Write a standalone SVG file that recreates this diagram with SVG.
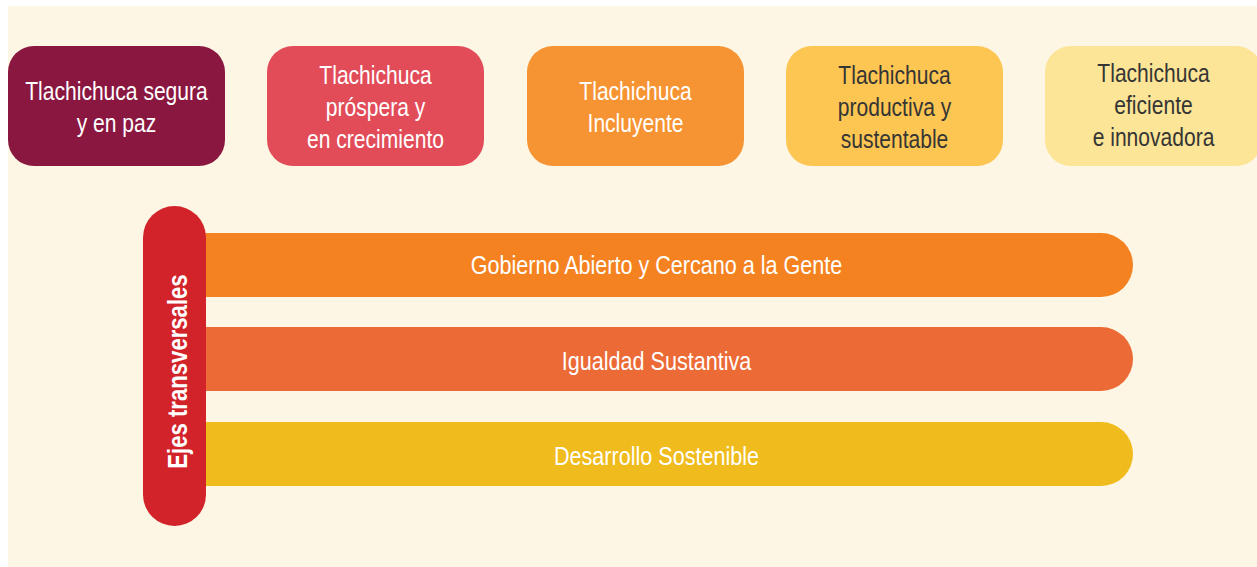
<svg xmlns="http://www.w3.org/2000/svg" width="1257" height="567" viewBox="0 0 1257 567">
<style>
.t{font-family:"Liberation Sans",Arial,sans-serif;font-size:26px;text-anchor:middle}
.w{fill:#ffffff}
.d{fill:#353535}
.b{font-weight:bold;font-size:27px}
</style>
<rect x="0" y="0" width="1257" height="567" fill="#ffffff"/>
<rect x="8" y="6" width="1249" height="561" fill="#FDF6E4"/>
<g id="node-segura">
<rect x="8" y="46" width="217" height="120" rx="26" fill="#8A173F"/>
<g transform="translate(116.5,0) scale(0.81,1)">
<text class="t w" x="0" y="100">Tlachichuca segura</text>
<text class="t w" x="0" y="132">y en paz</text>
</g>
</g>
<g id="node-prospera">
<rect x="267" y="46" width="217" height="120" rx="26" fill="#E24C59"/>
<g transform="translate(375.5,0) scale(0.81,1)">
<text class="t w" x="0" y="84">Tlachichuca</text>
<text class="t w" x="0" y="116">próspera y</text>
<text class="t w" x="0" y="148">en crecimiento</text>
</g>
</g>
<g id="node-incluyente">
<rect x="527" y="46" width="217" height="120" rx="26" fill="#F69433"/>
<g transform="translate(635.5,0) scale(0.81,1)">
<text class="t w" x="0" y="100">Tlachichuca</text>
<text class="t w" x="0" y="132">Incluyente</text>
</g>
</g>
<g id="node-productiva">
<rect x="786" y="46" width="217" height="120" rx="26" fill="#FDC652"/>
<g transform="translate(894.5,0) scale(0.81,1)">
<text class="t d" x="0" y="84">Tlachichuca</text>
<text class="t d" x="0" y="116">productiva y</text>
<text class="t d" x="0" y="148">sustentable</text>
</g>
</g>
<g id="node-eficiente">
<rect x="1045" y="46" width="217" height="120" rx="26" fill="#FCE596"/>
<g transform="translate(1153.5,0) scale(0.81,1)">
<text class="t d" x="0" y="82">Tlachichuca</text>
<text class="t d" x="0" y="114">eficiente</text>
<text class="t d" x="0" y="146">e innovadora</text>
</g>
</g>
<g id="connectors"></g>
<g id="bar-gobierno">
<rect x="175" y="233" width="958" height="64" rx="32" fill="#F58220"/>
<text class="t w" transform="translate(656.5,274) scale(0.83,1)">Gobierno Abierto y Cercano a la Gente</text>
</g>
<g id="bar-igualdad">
<rect x="175" y="327" width="958" height="64" rx="32" fill="#EC6A35"/>
<text class="t w" transform="translate(656.5,370) scale(0.83,1)">Igualdad Sustantiva</text>
</g>
<g id="bar-desarrollo">
<rect x="175" y="422" width="958" height="64" rx="32" fill="#F0BB1C"/>
<text class="t w" transform="translate(656.5,465) scale(0.83,1)">Desarrollo Sostenible</text>
</g>
<g id="node-ejes">
<rect x="143" y="206" width="63" height="320" rx="31.5" fill="#D2232A"/>
<text class="t w b" transform="translate(186.5,371.5) rotate(-90) scale(0.82,1)">Ejes transversales</text>
</g>
</svg>
